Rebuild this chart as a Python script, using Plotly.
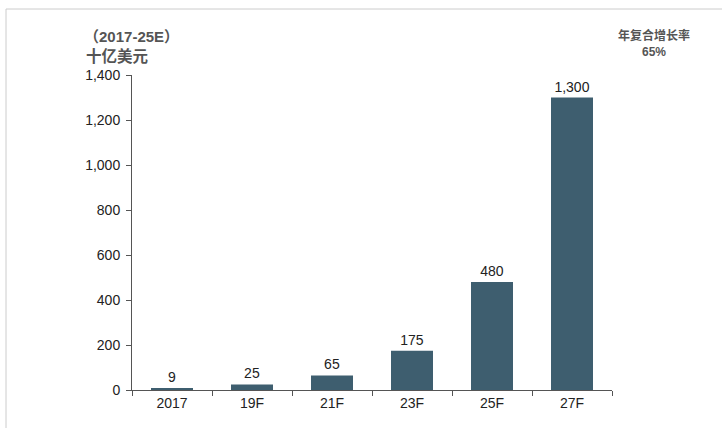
import plotly.graph_objects as go

categories = ["2017", "19F", "21F", "23F", "25F", "27F"]
values = [9, 25, 65, 175, 480, 1300]
value_labels = ["9", "25", "65", "175", "480", "1,300"]
y_ticks = [0, 200, 400, 600, 800, 1000, 1200, 1400]

W, H = 722, 428
L, R, T, B = 132, 110, 75, 38
pw, ph = W - L - R, H - T - B

def px(x):
    return (x - L) / pw

def py(y):
    return (H - B - y) / ph

fig = go.Figure(go.Bar(
    x=categories, y=values,
    marker=dict(color="#3e5e6f", line=dict(width=0)),
    text=value_labels, textposition="outside", cliponaxis=False,
    textfont=dict(family="Liberation Sans, Arial, sans-serif", size=14, color="#222222"),
))

fig.update_layout(
    width=W, height=H,
    margin=dict(l=L, r=R, t=T, b=B, autoexpand=False),
    paper_bgcolor="white", plot_bgcolor="white",
    bargap=0.475,
    showlegend=False,
    font=dict(family="Liberation Sans, Arial, sans-serif", size=14, color="#222222"),
    xaxis=dict(
        type="category", range=[-0.5, 5.5],
        showline=True, linecolor="#555555", linewidth=1,
        ticks="outside", tickson="boundaries", ticklen=5, tickcolor="#555555",
        showgrid=False, zeroline=False,
        tickfont=dict(size=14, color="#222222"),
    ),
    yaxis=dict(
        range=[0, 1400], tickvals=y_ticks, tickformat=",",
        showline=True, linecolor="#555555", linewidth=1,
        ticks="outside", ticklen=5, tickcolor="#555555",
        showgrid=False, zeroline=False, ticklabelstandoff=3,
        tickfont=dict(size=14, color="#222222"),
    ),
    shapes=[
        dict(type="line", xref="paper", yref="paper", x0=px(6), x1=px(722), y0=py(9), y1=py(9),
             line=dict(color="#cccccc", width=1)),
        dict(type="line", xref="paper", yref="paper", x0=px(6), x1=px(6), y0=py(9), y1=py(428),
             line=dict(color="#cccccc", width=1)),
    ],
    annotations=[
        dict(text="<b><span style='font-family:Noto Sans CJK SC'>（</span>2017-25E"
                  "<span style='font-family:Noto Sans CJK SC'>）</span></b>",
             xref="paper", yref="paper", x=px(82), y=py(35),
             xanchor="left", yanchor="middle", showarrow=False,
             font=dict(family="Liberation Sans, Arial, sans-serif", size=15, color="#555555")),
        dict(text="<b>十亿美元</b>", xref="paper", yref="paper", x=px(84), y=py(55),
             xanchor="left", yanchor="middle", showarrow=False,
             font=dict(family="Noto Sans CJK SC, sans-serif", size=15.5, color="#555555")),
        dict(text="<b>年复合增长率</b>", xref="paper", yref="paper", x=px(654), y=py(34),
             xanchor="center", yanchor="middle", showarrow=False,
             font=dict(family="Noto Sans CJK SC, sans-serif", size=12, color="#555555")),
        dict(text="<b>65%</b>", xref="paper", yref="paper", x=px(654), y=py(52),
             xanchor="center", yanchor="middle", showarrow=False,
             font=dict(size=12, color="#555555")),
    ],
)

fig.write_html("out.html", config={"displayModeBar": False},
               post_script="document.body.style.margin='0';")
